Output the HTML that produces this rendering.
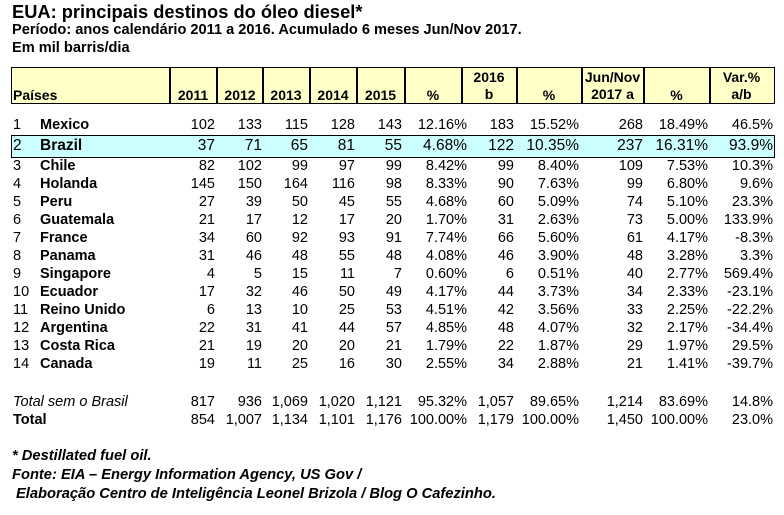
<!DOCTYPE html>
<html><head><meta charset="utf-8"><style>
body{margin:0;width:784px;height:515px;background:#fff;position:relative;overflow:hidden;font-family:"Liberation Sans",Arial,sans-serif;color:#000}
.a{position:absolute;white-space:nowrap}
.t{font-weight:bold;font-size:18.3px;left:12px;top:1px}
.s{font-weight:bold;font-size:14.6px;left:12px}
.hdr{position:absolute;left:11px;top:67px;width:762px;height:35px;background:#ffffc8;border:1.5px solid #000}
.vl{position:absolute;top:67px;height:37px;width:1.5px;background:#000}
.h{position:absolute;font-weight:bold;font-size:14px;text-align:center;line-height:17px}
.row{position:absolute;left:0;width:784px;height:18px;font-size:14.5px;line-height:18px}
.row span{position:absolute}
.n{text-align:right}
.br{position:absolute;left:11px;top:135px;width:762px;height:21px;background:#ccffff;border:1.5px solid #000}
.tot{font-size:14.5px}
.f{font-weight:bold;font-style:italic;font-size:14.7px}
</style></head><body>
<div class="a t">EUA: principais destinos do óleo diesel*</div>
<div class="a s" style="top:22px">Período: anos calendário 2011 a 2016. Acumulado 6 meses Jun/Nov 2017.</div>
<div class="a s" style="top:40px">Em mil barris/dia</div>
<div class="hdr"></div>
<div class="vl" style="left:169px"></div><div class="vl" style="left:216px"></div><div class="vl" style="left:262px"></div><div class="vl" style="left:309px"></div><div class="vl" style="left:356px"></div><div class="vl" style="left:404px"></div><div class="vl" style="left:461px"></div><div class="vl" style="left:516px"></div><div class="vl" style="left:581px"></div><div class="vl" style="left:643px"></div><div class="vl" style="left:709px"></div>
<div class="h" style="left:13px;top:87px">Países</div>
<div class="h" style="left:170px;width:46px;top:87px">2011</div>
<div class="h" style="left:217px;width:46px;top:87px">2012</div>
<div class="h" style="left:263px;width:46px;top:87px">2013</div>
<div class="h" style="left:310px;width:46px;top:87px">2014</div>
<div class="h" style="left:357px;width:47px;top:87px">2015</div>
<div class="h" style="left:405px;width:56px;top:87px">%</div>
<div class="h" style="left:462px;width:54px;top:69px">2016<br>b</div>
<div class="h" style="left:517px;width:64px;top:87px">%</div>
<div class="h" style="left:582px;width:61px;top:69px">Jun/Nov<br>2017 a</div>
<div class="h" style="left:644px;width:65px;top:87px">%</div>
<div class="h" style="left:710px;width:63px;top:69px">Var.%<br>a/b</div>
<div class="br"></div>
<div id="rows"></div>
<div class="a f" style="left:12px;top:448px">* Destillated fuel oil.</div>
<div class="a f" style="left:12px;top:467px">Fonte: EIA – Energy Information Agency, US Gov /</div>
<div class="a f" style="left:16px;top:486px">Elaboração Centro de Inteligência Leonel Brizola / Blog O Cafezinho.</div>
<script>
var R=[215,262,308,355,402,467,514,579,643,708,773];
var d=[
["1","Mexico","102","133","115","128","143","12.16%","183","15.52%","268","18.49%","46.5%"],
["2","Brazil","37","71","65","81","55","4.68%","122","10.35%","237","16.31%","93.9%"],
["3","Chile","82","102","99","97","99","8.42%","99","8.40%","109","7.53%","10.3%"],
["4","Holanda","145","150","164","116","98","8.33%","90","7.63%","99","6.80%","9.6%"],
["5","Peru","27","39","50","45","55","4.68%","60","5.09%","74","5.10%","23.3%"],
["6","Guatemala","21","17","12","17","20","1.70%","31","2.63%","73","5.00%","133.9%"],
["7","France","34","60","92","93","91","7.74%","66","5.60%","61","4.17%","-8.3%"],
["8","Panama","31","46","48","55","48","4.08%","46","3.90%","48","3.28%","3.3%"],
["9","Singapore","4","5","15","11","7","0.60%","6","0.51%","40","2.77%","569.4%"],
["10","Ecuador","17","32","46","50","49","4.17%","44","3.73%","34","2.33%","-23.1%"],
["11","Reino Unido","6","13","10","25","53","4.51%","42","3.56%","33","2.25%","-22.2%"],
["12","Argentina","22","31","41","44","57","4.85%","48","4.07%","32","2.17%","-34.4%"],
["13","Costa Rica","21","19","20","20","21","1.79%","22","1.87%","29","1.97%","29.5%"],
["14","Canada","19","11","25","16","30","2.55%","34","2.88%","21","1.41%","-39.7%"]];
var ys=[116,137,157,175,193,211,229,247,265,283,301,319,337,355];
var h="";
d.forEach(function(r,i){
 var fs=i==1?"font-size:15.5px;":"";
 h+='<div class="row" style="top:'+ys[i]+'px;'+fs+'"><span style="left:13px">'+r[0]+'</span><span style="left:40px;font-weight:bold">'+r[1]+'</span>';
 for(var j=0;j<11;j++)h+='<span class="n" style="right:'+(784-R[j])+'px">'+r[j+2]+'</span>';
 h+='</div>';});
var t=[["Total sem o Brasil","817","936","1,069","1,020","1,121","95.32%","1,057","89.65%","1,214","83.69%","14.8%",393,"font-style:italic"],
["Total","854","1,007","1,134","1,101","1,176","100.00%","1,179","100.00%","1,450","100.00%","23.0%",411,"font-weight:bold"]];
t.forEach(function(r){
 h+='<div class="row tot" style="top:'+r[12]+'px"><span style="left:13px;'+r[13]+'">'+r[0]+'</span>';
 for(var j=0;j<11;j++)h+='<span class="n" style="right:'+(784-R[j])+'px">'+r[j+1]+'</span>';
 h+='</div>';});
document.getElementById("rows").innerHTML=h;
</script>
</body></html>
